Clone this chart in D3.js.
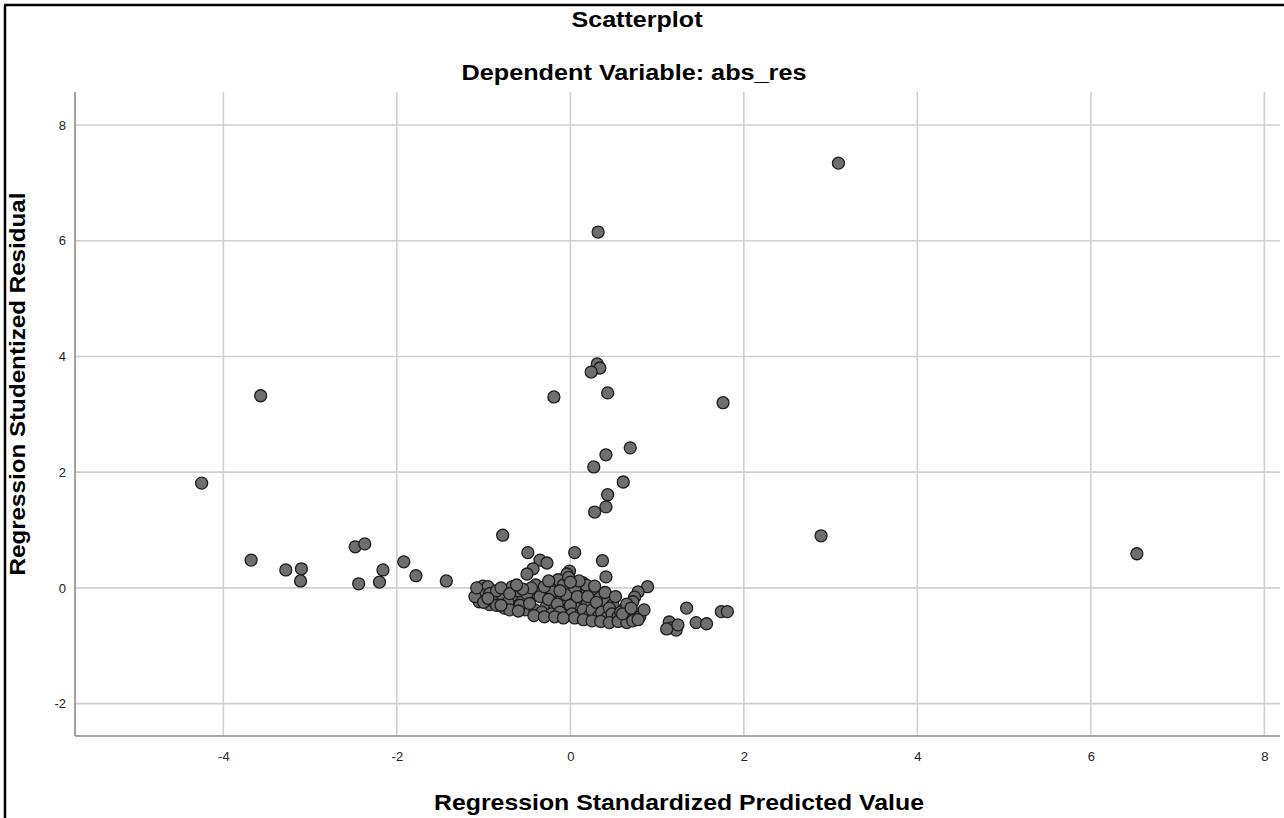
<!DOCTYPE html>
<html>
<head>
<meta charset="utf-8">
<script src="https://cdn.jsdelivr.net/npm/d3@7"></script>
<style>
  html, body { margin: 0; padding: 0; background: #fff; }
  svg { display: block; }
  text { font-family: "Liberation Sans", Arial, sans-serif; }
</style>
</head>
<body>
<svg id="chart" width="1284" height="818"></svg>
<script>
// ---- Data ----
const title = "Scatterplot";
const subtitle = "Dependent Variable: abs_res";
const xLabel = "Regression Standardized Predicted Value";
const yLabel = "Regression Studentized Residual";
const xTicks = [-4, -2, 0, 2, 4, 6, 8];
const yTicks = [-2, 0, 2, 4, 6, 8];

// predicted values (x) and studentized residuals (y)
const predicted = [
  3.09, 0.32, -3.57, -0.19, 0.31, 0.34, 0.24, 0.43, 1.76, 0.69,
  0.41, 0.27, 0.61, 0.43, 0.41, 0.28, -4.25, 2.89, 6.53, -3.68,
  -3.28, -3.10, -3.11, -2.48, -2.37, -2.44, -2.16, -2.20, -1.92, -1.78,
  -1.43, -0.78, -0.49, -0.35, -0.27, 0.05, 0.37, 0.41, -0.43, -0.50,
  -0.01, -0.04, 0.89, 0.78, 0.74, 0.72, 1.34, 1.74, 1.81, 1.45,
  1.57, 1.14, 1.17, 1.22, 1.24, 1.11,
  -1.01, -0.95, -1.05, -0.93, -1.05, -0.93, -0.78, -0.67, -0.66, -0.76,
  -0.65, -0.55, -0.52, -0.40, -0.39, -0.41, -0.28, -0.20, -0.14, -0.21,
  -0.10, -0.05, -0.18, -0.04, 0.09, 0.11, 0.13, 0.07, 0.19, 0.14,
  0.19, 0.26, 0.34, 0.43, 0.49, 0.61, 0.69,
  -0.90, -0.85, -0.80, -0.72, -0.60, -0.58, -0.50, -0.47, -0.45, -0.35,
  -0.33, -0.30, -0.25, -0.22, -0.15, -0.12, -0.08, -0.05, 0.00, 0.02,
  0.05, 0.08, 0.12, 0.15, 0.18, 0.20, 0.22, 0.25, 0.28, 0.30,
  0.32, 0.36, 0.40, 0.42, 0.45, 0.48, 0.52, 0.55, 0.58, 0.62,
  0.65, 0.68, 0.75, 0.80, 0.85, 0.10, -0.02, 0.00, -0.25, -0.12,
  -1.10, -1.08,
  -0.42, -0.30, -0.18, -0.08, 0.05, 0.15, 0.25, 0.35, 0.45, 0.55,
  0.65, 0.72, 0.78, 0.60, 0.70, -1.00, -0.85, -0.70, -0.60, -0.55,
  -0.70, -0.95, -0.62, -0.80
];
const residual = [
  7.34, 6.15, 3.32, 3.30, 3.87, 3.80, 3.73, 3.37, 3.20, 2.42,
  2.30, 2.09, 1.83, 1.61, 1.40, 1.31, 1.81, 0.90, 0.59, 0.48,
  0.31, 0.33, 0.12, 0.71, 0.76, 0.07, 0.31, 0.10, 0.45, 0.21,
  0.12, 0.91, 0.61, 0.48, 0.43, 0.61, 0.47, 0.19, 0.33, 0.24,
  0.29, 0.24, 0.02, -0.07, -0.16, -0.24, -0.35, -0.41, -0.41, -0.60,
  -0.62, -0.59, -0.69, -0.73, -0.64, -0.71,
  0.03, 0.02, -0.09, -0.10, -0.24, -0.29, -0.17, 0.02, -0.12, -0.35,
  -0.33, -0.21, -0.38, 0.05, -0.09, -0.38, -0.33, 0.09, 0.14, -0.07,
  -0.19, 0.00, -0.35, -0.38, 0.09, -0.07, -0.21, -0.35, -0.29, 0.09,
  -0.03, -0.12, -0.17, -0.24, -0.29, -0.38, -0.41,
  -0.22, -0.05, 0.00, -0.25, -0.05, -0.30, -0.10, -0.27, 0.00, -0.15,
  -0.42, 0.02, -0.20, -0.45, -0.28, -0.42, 0.05, -0.12, -0.30, -0.45,
  0.00, -0.15, -0.45, -0.38, 0.05, -0.15, -0.48, -0.38, 0.03, -0.25,
  -0.50, -0.42, -0.08, -0.52, -0.35, -0.45, -0.15, -0.50, -0.42, -0.52,
  -0.28, -0.50, -0.45, -0.50, -0.38, 0.12, 0.18, 0.10, 0.12, -0.05,
  -0.15, 0.00,
  -0.48, -0.50, -0.50, -0.52, -0.52, -0.55, -0.57, -0.58, -0.60, -0.58,
  -0.60, -0.57, -0.55, -0.45, -0.35, -0.25, -0.30, -0.38, -0.40, -0.02,
  -0.10, -0.18, 0.05, -0.30
];

// ---- Layout ----
const svg = d3.select("#chart");
const W = 1284, H = 818;
const plot = { left: 75, right: 1280, top: 92, bottom: 736 };

const x = d3.scaleLinear().domain([-5.71, 8.18]).range([plot.left, plot.right]);
const y = d3.scaleLinear().domain([-2.56, 8.57]).range([plot.bottom, plot.top]);

// outer frame (top and left edges visible in reference)
svg.append("line").attr("x1", 4).attr("x2", W).attr("y1", 5).attr("y2", 5)
  .attr("stroke", "#000").attr("stroke-width", 2.5);
svg.append("line").attr("x1", 5).attr("x2", 5).attr("y1", 5).attr("y2", H)
  .attr("stroke", "#000").attr("stroke-width", 2.5);

// gridlines
const grid = svg.append("g");
grid.selectAll("line.vx").data(xTicks).join("line")
  .attr("x1", d => x(d)).attr("x2", d => x(d))
  .attr("y1", plot.top).attr("y2", plot.bottom)
  .attr("stroke", "#cfcfcf").attr("stroke-width", 1.6);
grid.selectAll("line.hy").data(yTicks).join("line")
  .attr("y1", d => y(d)).attr("y2", d => y(d))
  .attr("x1", plot.left).attr("x2", plot.right)
  .attr("stroke", "#cfcfcf").attr("stroke-width", 1.6);

// axes (hyphen-minus labels as in the reference)
const fmt = d => String(d);
const xAxis = d3.axisBottom(x).tickValues(xTicks).tickSize(0).tickPadding(16).tickFormat(fmt);
const yAxis = d3.axisLeft(y).tickValues(yTicks).tickSize(0).tickPadding(9).tickFormat(fmt);

const gx = svg.append("g").attr("transform", `translate(0,${plot.bottom})`).call(xAxis);
gx.select(".domain").attr("d", `M${plot.left},0H${plot.right}`).attr("stroke", "#8c8c8c").attr("stroke-width", 1.6);
gx.selectAll("text").attr("font-size", 13).attr("fill", "#222").attr("font-family", "Liberation Sans, Arial, sans-serif");

const gy = svg.append("g").attr("transform", `translate(${plot.left},0)`).call(yAxis);
gy.select(".domain").attr("d", `M0,${plot.top}V${plot.bottom}`).attr("stroke", "#8c8c8c").attr("stroke-width", 1.6);
gy.selectAll("text").attr("font-size", 13).attr("fill", "#222").attr("font-family", "Liberation Sans, Arial, sans-serif");

// points
const pts = predicted.map((v, i) => ({ x: v, y: residual[i] }));
svg.append("g").selectAll("circle").data(pts).join("circle")
  .attr("cx", d => x(d.x)).attr("cy", d => y(d.y)).attr("r", 6)
  .attr("fill", "#6e6e6e").attr("stroke", "#1c1c1c").attr("stroke-width", 1.3);

// titles (reference glyphs are horizontally wide: fix rendered widths)
function label(sel, txt, len) {
  return sel.append("text").attr("text-anchor", "middle")
    .attr("font-size", 22).attr("font-weight", "bold").attr("fill", "#000")
    .attr("textLength", len).attr("lengthAdjust", "spacingAndGlyphs").text(txt);
}
label(svg, title, 131).attr("x", 637).attr("y", 27);
label(svg, subtitle, 345).attr("x", 634).attr("y", 80);
label(svg, xLabel, 490).attr("x", 679).attr("y", 810);
label(svg, yLabel, 383).attr("transform", "translate(25,384) rotate(-90)");
</script>
</body>
</html>
